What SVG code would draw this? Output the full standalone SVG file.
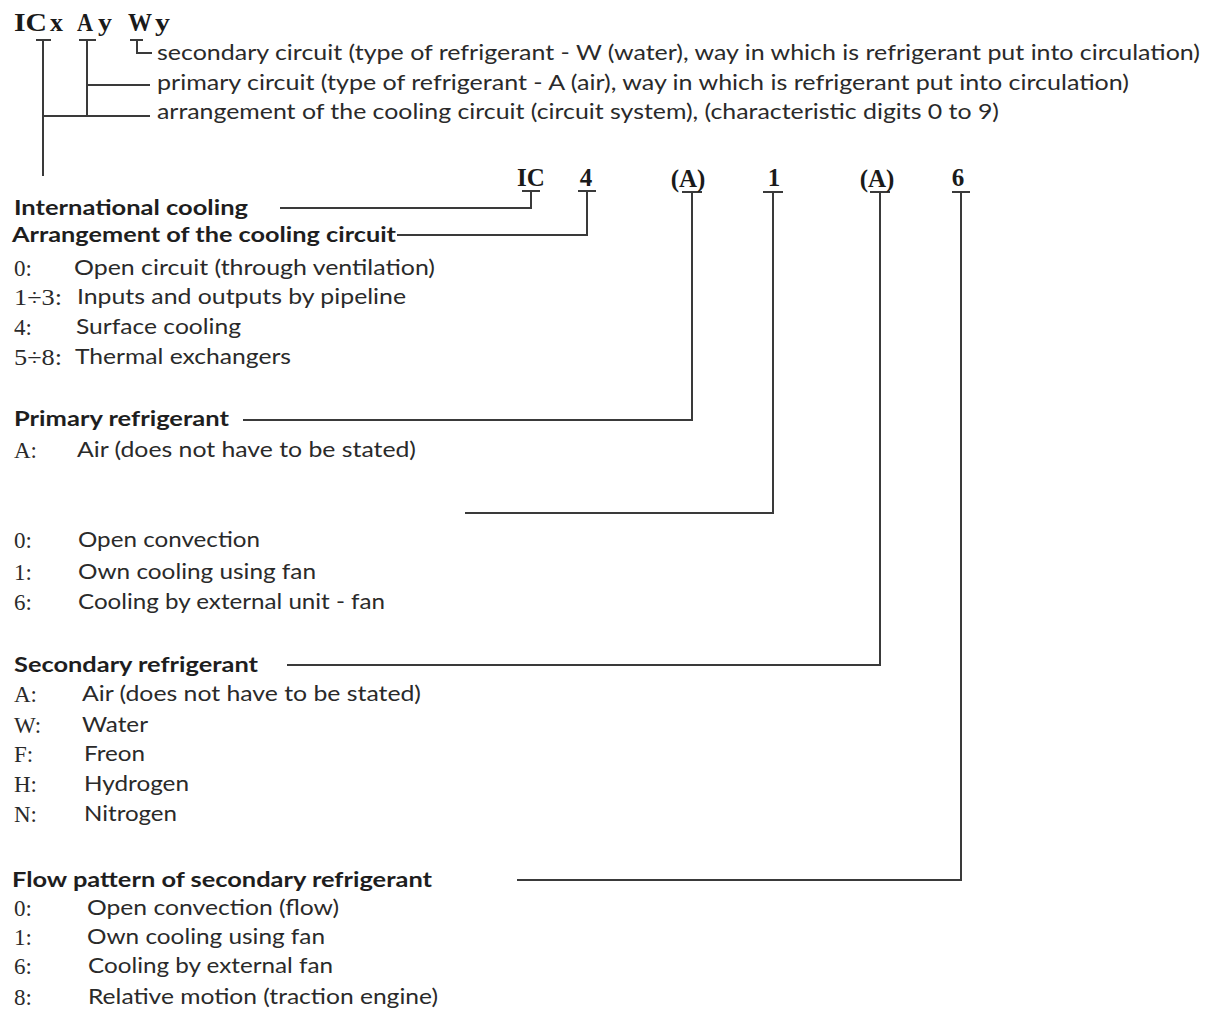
<svg xmlns="http://www.w3.org/2000/svg" width="1217" height="1010" viewBox="0 0 1217 1010">
<style>
.bg{fill:#ffffff}
.t{font-family:Lato,"Open Sans","Liberation Sans",sans-serif;font-size:21px;fill:#2a2a2a}
.h{font-family:Lato,"Open Sans","Liberation Sans",sans-serif;font-size:21px;font-weight:bold;fill:#1e1e1e}
.c{font-family:"Liberation Serif","DejaVu Serif",serif;font-size:23px;fill:#2a2a2a}
.code{font-family:"Liberation Serif","DejaVu Serif",serif;font-size:25px;font-weight:bold;fill:#1a1a1a}
.ln{fill:none;stroke:#3a3a3a;stroke-width:2;stroke-linejoin:miter}
</style>
<rect class="bg" x="0" y="0" width="1217" height="1010"/>

<g id="connectors">
  <path class="ln" d="M36 40 H51 M43 40 V176"/>
  <path class="ln" d="M79 40 H96 M87 40 V116"/>
  <path class="ln" d="M130 40 H143 M137 40 V53 H152"/>
  <path class="ln" d="M87 85 H150"/>
  <path class="ln" d="M43 116 H150"/>
  <path class="ln" d="M522 191 H540 M531 191 V208 H280"/>
  <path class="ln" d="M578 191 H596 M587 191 V235 H397"/>
  <path class="ln" d="M682 192 H702 M692 192 V420 H243"/>
  <path class="ln" d="M763 192 H783 M773 192 V513 H465"/>
  <path class="ln" d="M870 192 H890 M880 192 V665 H287"/>
  <path class="ln" d="M952 192 H970 M961 192 V880 H517"/>
</g>

<g id="top-code">
  <text class="code" x="14" y="31" font-size="24" textLength="33" lengthAdjust="spacingAndGlyphs">IC</text>
  <text class="code" x="50" y="31" font-size="24" textLength="13" lengthAdjust="spacingAndGlyphs">x</text>
  <text class="code" x="77" y="31" font-size="24" textLength="16" lengthAdjust="spacingAndGlyphs">A</text>
  <text class="code" x="98" y="31" font-size="24" textLength="14" lengthAdjust="spacingAndGlyphs">y</text>
  <text class="code" x="128" y="31" font-size="24" textLength="24" lengthAdjust="spacingAndGlyphs">W</text>
  <text class="code" x="155" y="31" font-size="24" textLength="15" lengthAdjust="spacingAndGlyphs">y</text>
</g>
<g id="top-secondary"><text class="t" x="157" y="60" textLength="1043" lengthAdjust="spacingAndGlyphs">secondary circuit (type of refrigerant - W (water), way in which is refrigerant put into circulation)</text></g>
<g id="top-primary"><text class="t" x="157" y="90" textLength="972" lengthAdjust="spacingAndGlyphs">primary circuit (type of refrigerant - A (air), way in which is refrigerant put into circulation)</text></g>
<g id="top-arrangement"><text class="t" x="157" y="119" textLength="842" lengthAdjust="spacingAndGlyphs">arrangement of the cooling circuit (circuit system), (characteristic digits 0 to 9)</text></g>

<g id="code-IC"><text class="code" x="531" y="186" text-anchor="middle">IC</text></g>
<g id="code-4"><text class="code" x="586" y="186" text-anchor="middle">4</text></g>
<g id="code-A1"><text class="code" x="688" y="187" text-anchor="middle">(A)</text></g>
<g id="code-1"><text class="code" x="774" y="186" text-anchor="middle">1</text></g>
<g id="code-A2"><text class="code" x="877" y="187" text-anchor="middle">(A)</text></g>
<g id="code-6"><text class="code" x="958" y="186" text-anchor="middle">6</text></g>

<g id="international-cooling"><text class="h" x="14" y="215" textLength="234" lengthAdjust="spacingAndGlyphs">International cooling</text></g>

<g id="arrangement">
  <text class="h" x="12" y="242" textLength="384" lengthAdjust="spacingAndGlyphs">Arrangement of the cooling circuit</text>
  <text class="c" x="14" y="276">0:</text>
  <text class="t" x="74" y="275" textLength="361" lengthAdjust="spacingAndGlyphs">Open circuit (through ventilation)</text>
  <text class="c" x="14" y="305" textLength="48" lengthAdjust="spacingAndGlyphs">1÷3:</text>
  <text class="t" x="77" y="304" textLength="329" lengthAdjust="spacingAndGlyphs">Inputs and outputs by pipeline</text>
  <text class="c" x="14" y="335">4:</text>
  <text class="t" x="76" y="334" textLength="165" lengthAdjust="spacingAndGlyphs">Surface cooling</text>
  <text class="c" x="14" y="365" textLength="48" lengthAdjust="spacingAndGlyphs">5÷8:</text>
  <text class="t" x="75" y="364" textLength="216" lengthAdjust="spacingAndGlyphs">Thermal exchangers</text>
</g>

<g id="primary-refrigerant">
  <text class="h" x="14" y="426" textLength="215" lengthAdjust="spacingAndGlyphs">Primary refrigerant</text>
  <text class="c" x="14" y="458">A:</text>
  <text class="t" x="77" y="457" textLength="339" lengthAdjust="spacingAndGlyphs">Air (does not have to be stated)</text>
</g>

<g id="primary-flow">
  <text class="c" x="14" y="548">0:</text>
  <text class="t" x="78" y="547" textLength="182" lengthAdjust="spacingAndGlyphs">Open convection</text>
  <text class="c" x="14" y="580">1:</text>
  <text class="t" x="78" y="579" textLength="238" lengthAdjust="spacingAndGlyphs">Own cooling using fan</text>
  <text class="c" x="14" y="610">6:</text>
  <text class="t" x="78" y="609" textLength="307" lengthAdjust="spacingAndGlyphs">Cooling by external unit - fan</text>
</g>

<g id="secondary-refrigerant">
  <text class="h" x="14" y="672" textLength="244" lengthAdjust="spacingAndGlyphs">Secondary refrigerant</text>
  <text class="c" x="14" y="702">A:</text>
  <text class="t" x="82" y="701" textLength="339" lengthAdjust="spacingAndGlyphs">Air (does not have to be stated)</text>
  <text class="c" x="14" y="733">W:</text>
  <text class="t" x="82" y="732" textLength="66" lengthAdjust="spacingAndGlyphs">Water</text>
  <text class="c" x="14" y="762">F:</text>
  <text class="t" x="84" y="761" textLength="61" lengthAdjust="spacingAndGlyphs">Freon</text>
  <text class="c" x="14" y="792">H:</text>
  <text class="t" x="84" y="791" textLength="105" lengthAdjust="spacingAndGlyphs">Hydrogen</text>
  <text class="c" x="14" y="822">N:</text>
  <text class="t" x="84" y="821" textLength="93" lengthAdjust="spacingAndGlyphs">Nitrogen</text>
</g>

<g id="flow-pattern">
  <text class="h" x="12" y="887" textLength="420" lengthAdjust="spacingAndGlyphs">Flow pattern of secondary refrigerant</text>
  <text class="c" x="14" y="916">0:</text>
  <text class="t" x="87" y="915" textLength="252" lengthAdjust="spacingAndGlyphs">Open convection (flow)</text>
  <text class="c" x="14" y="945">1:</text>
  <text class="t" x="87" y="944" textLength="238" lengthAdjust="spacingAndGlyphs">Own cooling using fan</text>
  <text class="c" x="14" y="974">6:</text>
  <text class="t" x="88" y="973" textLength="245" lengthAdjust="spacingAndGlyphs">Cooling by external fan</text>
  <text class="c" x="14" y="1005">8:</text>
  <text class="t" x="88" y="1004" textLength="350" lengthAdjust="spacingAndGlyphs">Relative motion (traction engine)</text>
</g>
</svg>
